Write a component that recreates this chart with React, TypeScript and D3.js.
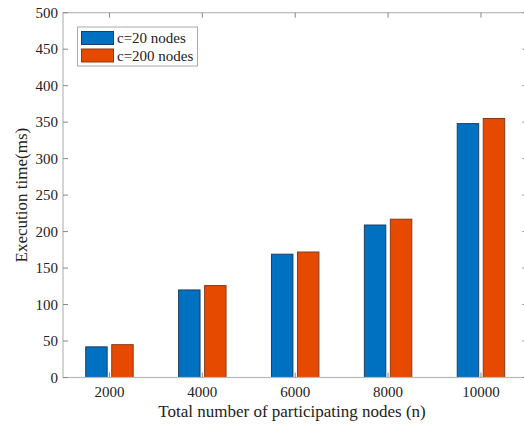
import React from "react";
import * as d3 from "d3";

const categories = [2000, 4000, 6000, 8000, 10000];
const seriesNames = ["c=20 nodes", "c=200 nodes"];
const c20 = [42, 120, 169, 209, 348];
const c200 = [45, 126, 172, 217, 355];
const yTicks = [0, 50, 100, 150, 200, 250, 300, 350, 400, 450, 500];

const W = 524, H = 424;
const left = 63, right = 527.4, top = 12.7, bottom = 377.5;
const FILL = ["#0070C0", "#E64A00"];
const EDGE = ["#1d3f66", "#8a3a1c"];
const FONT = "'Liberation Serif', 'Times New Roman', serif";

export default function App() {
  const x = d3.scaleLinear().domain([1000, 11000]).range([left, right]);
  const y = d3.scaleLinear().domain([0, 500]).range([bottom, top]);
  const offset = 280; // data units
  const halfW = 231;
  const series = [c20, c200];
  const tickLen = 5;
  return (
    <svg width={W} height={H} style={{ position: "absolute", left: 0, top: 0, background: "#fff" }}>
      <rect x={0} y={0} width={W} height={H} fill="#fff" />
      {series.map((vals, si) =>
        vals.map((v, i) => {
          const cx = categories[i] + (si === 0 ? -offset : offset);
          const x0 = x(cx - halfW);
          const x1 = x(cx + halfW);
          return (
            <rect key={`${si}-${i}`} x={x0} y={y(v)} width={x1 - x0} height={y(0) - y(v)}
              fill={FILL[si]} stroke={EDGE[si]} strokeWidth={1} />
          );
        })
      )}
      {/* axes box */}
      <rect x={left} y={top} width={right - left} height={bottom - top} fill="none" stroke="#b8b8b8" strokeWidth={1.2} />
      {/* x ticks */}
      {categories.map((c) => (
        <g key={c}>
          <line x1={x(c)} x2={x(c)} y1={bottom} y2={bottom - tickLen} stroke="#888" />
          <line x1={x(c)} x2={x(c)} y1={top} y2={top + tickLen} stroke="#888" />
          <text x={x(c)} y={bottom + 19} textAnchor="middle" fontFamily={FONT} fontSize={15} fill="#222">{c}</text>
        </g>
      ))}
      {yTicks.map((t) => (
        <g key={t}>
          <line x1={left} x2={left + tickLen} y1={y(t)} y2={y(t)} stroke="#888" />
          <line x1={right} x2={right - tickLen} y1={y(t)} y2={y(t)} stroke="#888" />
          <text x={left - 5} y={y(t) + 5} textAnchor="end" fontFamily={FONT} fontSize={15} fill="#222">{t}</text>
        </g>
      ))}
      <text x={292} y={417} textAnchor="middle" fontFamily={FONT} fontSize={17} fill="#222">
        Total number of participating nodes (n)
      </text>
      <text transform={`translate(27, ${(top + bottom) / 2}) rotate(-90)`} textAnchor="middle" fontFamily={FONT} fontSize={17} fill="#222">
        Execution time(ms)
      </text>
      {/* legend */}
      <rect x={77.5} y={27} width={120} height={39} fill="#fff" stroke="#aaa" strokeWidth={1} />
      {seriesNames.map((n, i) => (
        <g key={n}>
          <rect x={81.5} y={31.5 + i * 17.5} width={32} height={13} fill={FILL[i]} stroke={EDGE[i]} strokeWidth={1} />
          <text x={117} y={43 + i * 17.5} fontFamily={FONT} fontSize={15} fill="#222">{n}</text>
        </g>
      ))}
    </svg>
  );
}
